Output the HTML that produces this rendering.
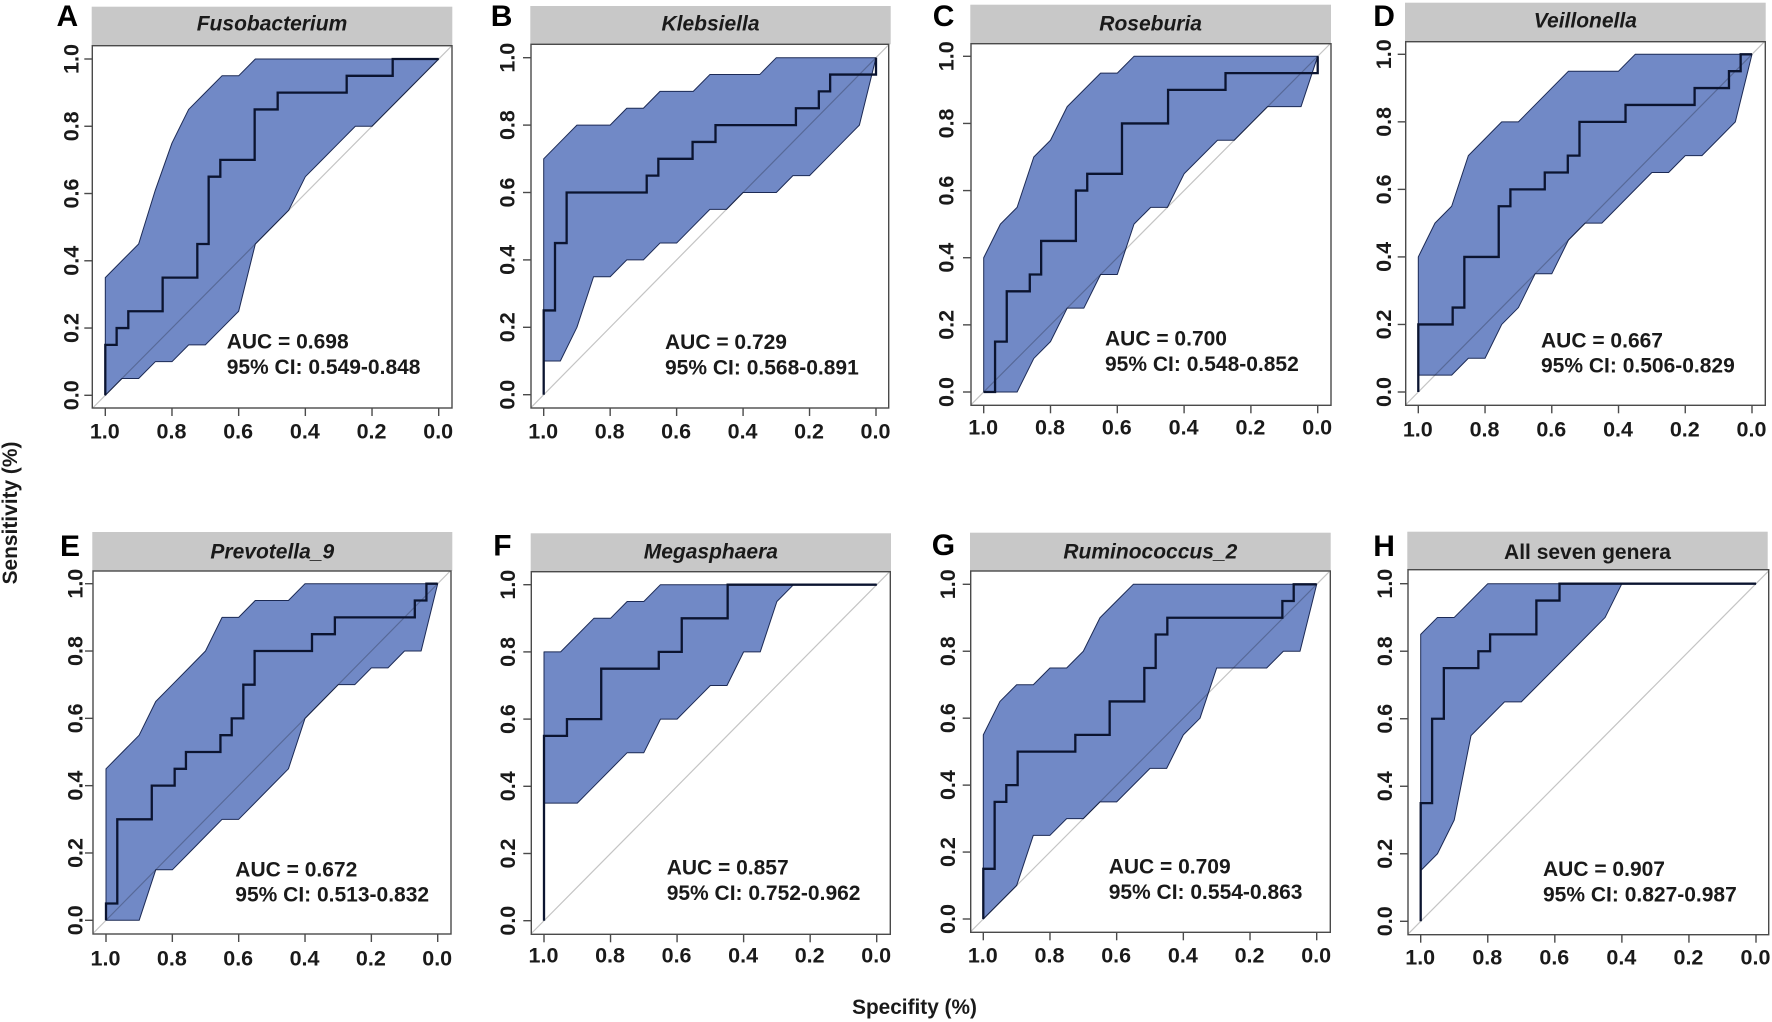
<!DOCTYPE html>
<html lang="en">
<head>
<meta charset="utf-8">
<title>ROC curves for seven genera</title>
<style>
html,body{margin:0;padding:0;background:#fff;}
svg{display:block;font-family:"Liberation Sans",Arial,sans-serif;filter:blur(0.35px);}
text{fill:#1a1a1a;font-weight:bold;}
</style>
</head>
<body>
<svg id="chart" xmlns="http://www.w3.org/2000/svg" width="1772" height="1022" viewBox="0 0 1772 1022">
<rect x="0" y="0" width="1772" height="1022" fill="#ffffff"/>
<text transform="translate(17,513) rotate(-90)" text-anchor="middle" font-size="20.9">Sensitivity (%)</text>
<text x="914.5" y="1014" text-anchor="middle" font-size="20.8">Specifity (%)</text>
</svg>
<script>
// Shared axis data
const specGrid = [1,0.95,0.9,0.85,0.8,0.75,0.7,0.65,0.6,0.55,0.5,0.45,0.4,0.35,0.3,0.25,0.2,0.15,0.1,0.05,0];
const tickValues = [1,0.8,0.6,0.4,0.2,0];
const tickLabels = ["1.0","0.8","0.6","0.4","0.2","0.0"];

// Panel labels
const panelLetters = ["A","B","C","D","E","F","G","H"];
const panelTitles = ["Fusobacterium","Klebsiella","Roseburia","Veillonella","Prevotella_9","Megasphaera","Ruminococcus_2","All seven genera"];
const aucValues = ["0.698","0.729","0.700","0.667","0.672","0.857","0.709","0.907"];
const ciValues = ["0.549-0.848","0.568-0.891","0.548-0.852","0.506-0.829","0.513-0.832","0.752-0.962","0.554-0.863","0.827-0.987"];

// CI band values on specGrid
const upperA = [0.35,0.40,0.45,0.61,0.75,0.85,0.90,0.95,0.95,1,1,1,1,1,1,1,1,1,1,1,1];
const lowerA = [0,0.05,0.05,0.10,0.10,0.15,0.15,0.20,0.25,0.45,0.50,0.55,0.65,0.70,0.75,0.80,0.80,0.85,0.90,0.95,1];
const upperB = [0.70,0.75,0.80,0.80,0.80,0.85,0.85,0.90,0.90,0.90,0.95,0.95,0.95,0.95,1,1,1,1,1,1,1];
const lowerB = [0.10,0.10,0.20,0.35,0.35,0.40,0.40,0.45,0.45,0.50,0.55,0.55,0.60,0.60,0.60,0.65,0.65,0.70,0.75,0.80,1];
const upperC = [0.40,0.50,0.55,0.70,0.75,0.85,0.90,0.95,0.95,1,1,1,1,1,1,1,1,1,1,1,1];
const lowerC = [0,0,0,0.10,0.15,0.25,0.25,0.35,0.35,0.50,0.55,0.55,0.65,0.70,0.75,0.75,0.80,0.85,0.85,0.85,1];
const upperD = [0.40,0.50,0.55,0.70,0.75,0.80,0.80,0.85,0.90,0.95,0.95,0.95,0.95,1,1,1,1,1,1,1,1];
const lowerD = [0.05,0.05,0.05,0.10,0.10,0.20,0.25,0.35,0.35,0.45,0.50,0.50,0.55,0.60,0.65,0.65,0.70,0.70,0.75,0.80,1];
const upperE = [0.45,0.50,0.55,0.65,0.70,0.75,0.80,0.90,0.90,0.95,0.95,0.95,1,1,1,1,1,1,1,1,1];
const lowerE = [0,0,0,0.15,0.15,0.20,0.25,0.30,0.30,0.35,0.40,0.45,0.60,0.65,0.70,0.70,0.75,0.75,0.80,0.80,1];
const upperF = [0.80,0.80,0.85,0.90,0.90,0.95,0.95,1,1,1,1,1,1,1,1,1,1,1,1,1,1];
const lowerF = [0.35,0.35,0.35,0.40,0.45,0.50,0.50,0.60,0.60,0.65,0.70,0.70,0.80,0.80,0.95,1,1,1,1,1,1];
const upperG = [0.55,0.65,0.70,0.70,0.75,0.75,0.80,0.90,0.95,1,1,1,1,1,1,1,1,1,1,1,1];
const lowerG = [0,0.05,0.10,0.25,0.25,0.30,0.30,0.35,0.35,0.40,0.45,0.45,0.55,0.60,0.75,0.75,0.75,0.75,0.80,0.80,1];
const upperH = [0.85,0.90,0.90,0.95,1,1,1,1,1,1,1,1,1,1,1,1,1,1,1,1,1];
const lowerH = [0.15,0.20,0.30,0.55,0.60,0.65,0.65,0.70,0.75,0.80,0.85,0.90,1,1,1,1,1,1,1,1,1];

// ROC step curves: specificity and sensitivity at each vertex
const rocSpecA = [1,1,0.966,0.966,0.931,0.931,0.828,0.828,0.724,0.724,0.69,0.69,0.655,0.655,0.552,0.552,0.483,0.483,0.276,0.276,0.138,0.138,0];
const rocSensA = [0,0.15,0.15,0.20,0.20,0.25,0.25,0.35,0.35,0.45,0.45,0.65,0.65,0.70,0.70,0.85,0.85,0.90,0.90,0.95,0.95,1,1];
const rocSpecB = [1,1,0.966,0.966,0.931,0.931,0.69,0.69,0.655,0.655,0.552,0.552,0.483,0.483,0.241,0.241,0.172,0.172,0.138,0.138,0,0];
const rocSensB = [0,0.25,0.25,0.45,0.45,0.60,0.60,0.65,0.65,0.70,0.70,0.75,0.75,0.80,0.80,0.85,0.85,0.90,0.90,0.95,0.95,1];
const rocSpecC = [1,0.966,0.966,0.931,0.931,0.862,0.862,0.828,0.828,0.724,0.724,0.69,0.69,0.586,0.586,0.448,0.448,0.276,0.276,0,0];
const rocSensC = [0,0,0.15,0.15,0.30,0.30,0.35,0.35,0.45,0.45,0.60,0.60,0.65,0.65,0.80,0.80,0.90,0.90,0.95,0.95,1];
const rocSpecD = [1,1,0.897,0.897,0.862,0.862,0.759,0.759,0.724,0.724,0.621,0.621,0.552,0.552,0.517,0.517,0.379,0.379,0.172,0.172,0.069,0.069,0.034,0.034,0];
const rocSensD = [0,0.20,0.20,0.25,0.25,0.40,0.40,0.55,0.55,0.60,0.60,0.65,0.65,0.70,0.70,0.80,0.80,0.85,0.85,0.90,0.90,0.95,0.95,1,1];
const rocSpecE = [1,1,0.966,0.966,0.862,0.862,0.793,0.793,0.759,0.759,0.655,0.655,0.621,0.621,0.586,0.586,0.552,0.552,0.379,0.379,0.31,0.31,0.069,0.069,0.034,0.034,0];
const rocSensE = [0,0.05,0.05,0.30,0.30,0.40,0.40,0.45,0.45,0.50,0.50,0.55,0.55,0.60,0.60,0.70,0.70,0.80,0.80,0.85,0.85,0.90,0.90,0.95,0.95,1,1];
const rocSpecF = [1,1,0.931,0.931,0.828,0.828,0.655,0.655,0.586,0.586,0.448,0.448,0];
const rocSensF = [0,0.55,0.55,0.60,0.60,0.75,0.75,0.80,0.80,0.90,0.90,1,1];
const rocSpecG = [1,1,0.966,0.966,0.931,0.931,0.897,0.897,0.724,0.724,0.621,0.621,0.517,0.517,0.483,0.483,0.448,0.448,0.103,0.103,0.069,0.069,0];
const rocSensG = [0,0.15,0.15,0.35,0.35,0.40,0.40,0.50,0.50,0.55,0.55,0.65,0.65,0.75,0.75,0.85,0.85,0.90,0.90,0.95,0.95,1,1];
const rocSpecH = [1,1,0.966,0.966,0.931,0.931,0.828,0.828,0.793,0.793,0.655,0.655,0.586,0.586,0];
const rocSensH = [0,0.35,0.35,0.60,0.60,0.75,0.75,0.80,0.80,0.85,0.85,0.95,0.95,1,1];

const upperSeries = [upperA,upperB,upperC,upperD,upperE,upperF,upperG,upperH];
const lowerSeries = [lowerA,lowerB,lowerC,lowerD,lowerE,lowerF,lowerG,lowerH];
const rocSpecSeries = [rocSpecA,rocSpecB,rocSpecC,rocSpecD,rocSpecE,rocSpecF,rocSpecG,rocSpecH];
const rocSensSeries = [rocSensA,rocSensB,rocSensC,rocSensD,rocSensE,rocSensF,rocSensG,rocSensH];

// Panel layout (frame box, axis anchors, strip and annotation placement)
function layoutFor(i){
  const L = [
    {l:92.3,r:452,t:45.7,b:408,x1:105.3,x0:438.7,y1:59,y0:395.3,st:6.7,sl:91.7,sr:452.3,tb:30.7,yl:70.7,xl:431.7,ax:226.7,a1:348.3,a2:374,lx:56.5,lb:26},
    {l:531,r:888.7,t:44.3,b:408,x1:543.7,x0:876,y1:57.7,y0:394.7,st:6,sl:530.3,sr:890.7,tb:30.7,yl:506.7,xl:432,ax:665,a1:349,a2:374.7,lx:490.7,lb:26},
    {l:971,r:1331,t:43.7,b:405.3,x1:983.7,x0:1317.7,y1:56.3,y0:392,st:4.7,sl:970.3,sr:1331,tb:30.7,yl:946,xl:428,ax:1105,a1:345.7,a2:371,lx:932.7,lb:26},
    {l:1405.7,r:1765.3,t:41.7,b:405.3,x1:1418.3,x0:1752,y1:54.3,y0:392,st:2.7,sl:1405,sr:1765.7,tb:27.7,yl:1383.3,xl:430,ax:1541,a1:347.3,a2:372.3,lx:1373.3,lb:26},
    {l:93,r:451,t:571,b:934,x1:106,x0:437.7,y1:583.7,y0:920.3,st:532,sl:92.3,sr:452.3,tb:558.3,yl:75,xl:959,ax:235.3,a1:876.3,a2:901.3,lx:60,lb:556},
    {l:531.3,r:890.3,t:571.7,b:934.3,x1:544,x0:876.7,y1:584.7,y0:920.7,st:533.3,sl:530.7,sr:891,tb:558.3,yl:507.3,xl:956,ax:666.7,a1:874.3,a2:900,lx:493.3,lb:555.3},
    {l:970.7,r:1330.3,t:571,b:932.3,x1:983.3,x0:1316.7,y1:584.3,y0:919,st:532.7,sl:970,sr:1330.7,tb:558.3,yl:947.3,xl:956,ax:1108.7,a1:873.3,a2:899,lx:931.7,lb:555},
    {l:1408,r:1768.7,t:569.7,b:934.7,x1:1420.7,x0:1756,y1:583.7,y0:921.3,st:531.7,sl:1407.3,sr:1767.7,tb:559,yl:1384.3,xl:958,ax:1543,a1:876,a2:901.3,lx:1373.3,lb:556}
  ];
  return L[i];
}

const svg = document.getElementById('chart');
const NS = 'http://www.w3.org/2000/svg';
function mk(tag, parent, attrs, txt){
  const el = document.createElementNS(NS, tag);
  for (const k in attrs) el.setAttribute(k, attrs[k]);
  if (txt !== undefined) el.textContent = txt;
  parent.appendChild(el);
  return el;
}

panelLetters.forEach(function(letter, i){
  const g0 = layoutFor(i);
  const xScale = function(v){ return g0.x0 + (g0.x1 - g0.x0) * v; };
  const yScale = function(v){ return g0.y0 + (g0.y1 - g0.y0) * v; };
  const key = letter.toLowerCase();

  const group = mk('g', svg, {});
  
  

  const strip = mk('rect', group, {x:g0.sl, y:g0.st, width:g0.sr-g0.sl, height:g0.t-g0.st, fill:'#c8c8c8'});
  
  

  const title = mk('text', group, {x:(g0.sl+g0.sr)/2, y:g0.tb, 'text-anchor':'middle', 'font-size':21, 'font-style': i === 7 ? 'normal' : 'italic'}, panelTitles[i]);
  
  

  const tag = mk('text', group, {x:g0.lx, y:g0.lb, 'font-size':30, fill:'#000'}, letter);
  tag.style.fill = '#000';
  
  

  const upper = upperSeries[i], lower = lowerSeries[i];
  const pts = [];
  specGrid.forEach(function(s, j){ pts.push(xScale(s).toFixed(2) + ',' + yScale(upper[j]).toFixed(2)); });
  for (let j = specGrid.length - 1; j >= 0; j--) pts.push(xScale(specGrid[j]).toFixed(2) + ',' + yScale(lower[j]).toFixed(2));
  const band = mk('polygon', group, {points:pts.join(' '), fill:'#7189c6', stroke:'#1c2a55', 'stroke-width':1, 'stroke-linejoin':'round'});
  
  

  const diag = mk('line', group, {x1:xScale(1.037), y1:yScale(-0.037), x2:xScale(-0.037), y2:yScale(1.037), stroke:'#c4c4c4', 'stroke-width':1.2});
  diag.style.mixBlendMode = 'multiply';
  
  

  const rocPts = rocSpecSeries[i].map(function(s, j){ return xScale(s).toFixed(2) + ',' + yScale(rocSensSeries[i][j]).toFixed(2); });
  const roc = mk('polyline', group, {points:rocPts.join(' '), fill:'none', stroke:'#0b1430', 'stroke-width':2.3, 'stroke-linejoin':'miter'});
  
  

  const frame = mk('rect', group, {x:g0.l, y:g0.t, width:g0.r-g0.l, height:g0.b-g0.t, fill:'none', stroke:'#4a4a4a', 'stroke-width':1.4});
  
  

  tickValues.forEach(function(v, j){
    const xt = mk('line', group, {x1:xScale(v), y1:g0.b, x2:xScale(v), y2:g0.b+8, stroke:'#4a4a4a', 'stroke-width':1.4});
    
    

    const xl = mk('text', group, {x:xScale(v)-0.5, y:g0.xl+6.7, 'text-anchor':'middle', 'font-size':21.5}, tickLabels[j]);
    
    

    const yt = mk('line', group, {x1:g0.l-8, y1:yScale(v), x2:g0.l, y2:yScale(v), stroke:'#4a4a4a', 'stroke-width':1.4});
    
    

    const yl = mk('text', group, {transform:'translate(' + (g0.yl+7.7) + ',' + yScale(v) + ') rotate(-90)', 'text-anchor':'middle', 'font-size':21.5}, tickLabels[j]);
    
    
  });

  const auc = mk('text', group, {x:g0.ax, y:g0.a1, 'font-size':21}, 'AUC = ' + aucValues[i]);
  
  

  const ci = mk('text', group, {x:g0.ax, y:g0.a2, 'font-size':21}, '95% CI: ' + ciValues[i]);
  
  
});
</script>
</body>
</html>
